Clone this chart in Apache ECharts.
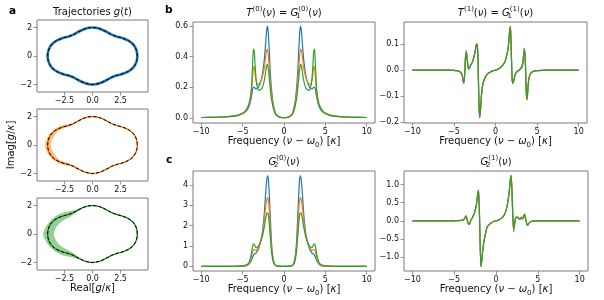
<!DOCTYPE html>
<html><head><meta charset="utf-8">
<script src="https://cdn.jsdelivr.net/npm/echarts@6/dist/echarts.min.js"></script>
<style>html,body{margin:0;padding:0;background:#fff}#c{width:604px;height:300px}</style>
</head><body><div id="c"></div>
<script>
// ---------------- DATA ----------------
const freq = [-10,-8,-7,-6,-5.5,-5,-4.7,-4.4,-4.2,-4.0,-3.9,-3.8,-3.7,-3.6,-3.5,-3.4,-3.3,-3.2,-3.1,-3.0,-2.8,-2.6,-2.4,-2.3,-2.2,-2.1,-2.0,-1.9,-1.8,-1.7,-1.6,-1.5,-1.3,-1.1,-0.9,-0.6,-0.3,
  0,
  0.3,0.6,0.9,1.1,1.3,1.5,1.6,1.7,1.8,1.9,2.0,2.1,2.2,2.3,2.4,2.6,2.8,3.0,3.1,3.2,3.3,3.4,3.5,3.6,3.7,3.8,3.9,4.0,4.2,4.4,4.7,5,5.5,6,7,8,10];

// b: T^(0) = G1^(0)
const T0_blue = [0.003,0.005,0.007,0.012,0.017,0.027,0.038,0.058,0.08,0.12,0.15,0.185,0.2,0.2,0.195,0.19,0.19,0.195,0.2,0.21,0.24,0.29,0.37,0.43,0.5,0.57,0.6,0.56,0.46,0.34,0.25,0.18,0.09,0.045,0.022,0.008,0.003,
  0.002,
  0.003,0.008,0.022,0.045,0.09,0.18,0.25,0.34,0.46,0.56,0.6,0.57,0.5,0.43,0.37,0.29,0.24,0.21,0.2,0.195,0.19,0.19,0.195,0.2,0.2,0.185,0.15,0.12,0.08,0.058,0.038,0.027,0.017,0.012,0.007,0.005,0.003];
const T0_orange = [0.003,0.005,0.008,0.013,0.019,0.03,0.042,0.065,0.09,0.14,0.19,0.26,0.33,0.335,0.29,0.25,0.23,0.22,0.22,0.225,0.24,0.27,0.32,0.36,0.41,0.44,0.45,0.41,0.34,0.26,0.2,0.15,0.08,0.04,0.02,0.007,0.003,
  0.002,
  0.003,0.007,0.02,0.04,0.08,0.15,0.2,0.26,0.34,0.41,0.45,0.44,0.41,0.36,0.32,0.27,0.24,0.225,0.22,0.22,0.23,0.25,0.29,0.335,0.33,0.26,0.19,0.14,0.09,0.065,0.042,0.03,0.019,0.013,0.008,0.005,0.003];
const T0_green = [0.003,0.005,0.008,0.014,0.02,0.032,0.045,0.07,0.1,0.16,0.23,0.34,0.45,0.44,0.35,0.27,0.22,0.195,0.185,0.18,0.185,0.2,0.24,0.27,0.31,0.34,0.35,0.32,0.27,0.21,0.16,0.12,0.065,0.033,0.017,0.006,0.002,
  0.001,
  0.002,0.006,0.017,0.033,0.065,0.12,0.16,0.21,0.27,0.32,0.35,0.34,0.31,0.27,0.24,0.2,0.185,0.18,0.185,0.195,0.22,0.27,0.35,0.44,0.45,0.34,0.23,0.16,0.1,0.07,0.045,0.032,0.02,0.014,0.008,0.005,0.003];

// b: T^(1) = G1^(1)
const T1_blue = [0,0,0,0,0,-0.001,-0.002,-0.004,-0.008,-0.02,-0.04,-0.05,-0.01,0.055,0.074,0.045,0.01,0.004,0.009,0.018,0.03,0.05,0.08,0.098,0.1,0.04,-0.12,-0.182,-0.15,-0.1,-0.07,-0.052,-0.032,-0.02,-0.013,-0.007,-0.003,
  0,
  0.004,0.01,0.02,0.03,0.05,0.08,0.11,0.15,0.168,0.07,-0.035,-0.05,-0.04,-0.025,-0.015,-0.006,-0.002,0.004,0.008,0.012,0.028,0.07,0.085,0.025,-0.085,-0.114,-0.07,-0.035,-0.014,-0.007,-0.003,-0.002,-0.001,0,0,0,0];
const T1_orange = [0,0,0,0,0,-0.001,-0.002,-0.004,-0.008,-0.02,-0.04,-0.05,-0.01,0.052,0.07,0.043,0.015,0.01,0.012,0.018,0.03,0.05,0.08,0.098,0.1,0.04,-0.12,-0.182,-0.15,-0.1,-0.07,-0.052,-0.032,-0.02,-0.013,-0.007,-0.003,
  0,
  0.004,0.01,0.02,0.03,0.05,0.08,0.11,0.15,0.167,0.07,-0.035,-0.05,-0.04,-0.025,-0.015,-0.005,0.0,0.007,0.012,0.02,0.03,0.066,0.08,0.022,-0.085,-0.113,-0.07,-0.035,-0.014,-0.007,-0.003,-0.002,-0.001,0,0,0,0];
const T1_green = [0,0,0,0,0,-0.001,-0.002,-0.004,-0.008,-0.02,-0.04,-0.05,-0.01,0.05,0.066,0.04,0.012,0.006,0.01,0.018,0.03,0.05,0.08,0.098,0.1,0.04,-0.12,-0.182,-0.15,-0.1,-0.07,-0.052,-0.032,-0.02,-0.013,-0.007,-0.003,
  0,
  0.004,0.01,0.02,0.03,0.05,0.08,0.11,0.15,0.166,0.07,-0.035,-0.05,-0.04,-0.025,-0.015,-0.005,0.0,0.006,0.01,0.016,0.03,0.062,0.075,0.02,-0.085,-0.112,-0.07,-0.035,-0.014,-0.007,-0.003,-0.002,-0.001,0,0,0,0];

// c: G2^(0)
const G20_blue = [0,0,0.001,0.002,0.005,0.012,0.025,0.06,0.12,0.25,0.35,0.45,0.55,0.6,0.62,0.65,0.7,0.76,0.85,0.95,1.25,1.7,2.5,3.1,3.7,4.2,4.45,4.35,3.7,2.8,1.9,1.1,0.35,0.1,0.03,0.008,0.003,
  0.002,
  0.003,0.008,0.03,0.1,0.35,1.1,1.9,2.8,3.7,4.35,4.45,4.2,3.7,3.1,2.5,1.7,1.25,0.95,0.85,0.76,0.7,0.65,0.62,0.6,0.55,0.45,0.35,0.25,0.12,0.06,0.025,0.012,0.005,0.002,0.001,0,0];
const G20_orange = [0,0,0.001,0.003,0.007,0.016,0.035,0.08,0.17,0.38,0.55,0.72,0.8,0.82,0.8,0.8,0.82,0.86,0.92,1.0,1.25,1.6,2.2,2.6,2.95,3.25,3.38,3.3,2.85,2.15,1.45,0.85,0.28,0.08,0.025,0.007,0.003,
  0.002,
  0.003,0.007,0.025,0.08,0.28,0.85,1.45,2.15,2.85,3.3,3.38,3.25,2.95,2.6,2.2,1.6,1.25,1.0,0.92,0.86,0.82,0.8,0.8,0.82,0.8,0.72,0.55,0.38,0.17,0.08,0.035,0.016,0.007,0.003,0.001,0,0];
const G20_green = [0,0,0.001,0.004,0.009,0.02,0.045,0.1,0.22,0.5,0.75,0.98,1.1,1.08,1.0,0.93,0.92,0.95,1.0,1.06,1.25,1.5,1.9,2.15,2.4,2.58,2.63,2.55,2.2,1.65,1.15,0.68,0.22,0.07,0.02,0.006,0.002,
  0.001,
  0.002,0.006,0.02,0.07,0.22,0.68,1.15,1.65,2.2,2.55,2.63,2.58,2.4,2.15,1.9,1.5,1.25,1.06,1.0,0.95,0.92,0.93,1.0,1.08,1.1,0.98,0.75,0.5,0.22,0.1,0.045,0.02,0.009,0.004,0.001,0,0];

// c: G2^(1)
const G21_blue = [0,0,0,0,0,0.001,0.002,0.005,0.01,0.02,0.03,0.05,0.085,0.11,0.075,-0.02,-0.08,-0.1,-0.05,0.02,0.1,0.2,0.38,0.52,0.72,0.84,0.4,-0.6,-1.26,-1.1,-0.85,-0.65,-0.4,-0.2,-0.12,-0.06,-0.02,
  0,
  0.02,0.06,0.13,0.22,0.38,0.65,0.85,1.1,1.25,0.9,0.2,-0.3,-0.16,0.03,0.09,0.09,0.04,0.06,0.09,0.05,0.09,0.17,0.11,0.0,-0.1,-0.12,-0.08,-0.05,-0.02,-0.008,-0.003,-0.001,0,0,0,0,0];
const G21_orange = [0,0,0,0,0,0.001,0.002,0.005,0.01,0.02,0.03,0.05,0.095,0.15,0.1,-0.02,-0.08,-0.1,-0.05,0.02,0.1,0.2,0.38,0.52,0.72,0.84,0.4,-0.6,-1.26,-1.1,-0.85,-0.65,-0.4,-0.2,-0.12,-0.06,-0.02,
  0,
  0.02,0.06,0.13,0.22,0.38,0.65,0.85,1.1,1.25,0.9,0.2,-0.25,-0.14,0.05,0.1,0.1,0.05,0.08,0.1,0.06,0.1,0.19,0.12,0.0,-0.1,-0.12,-0.08,-0.05,-0.02,-0.008,-0.003,-0.001,0,0,0,0,0];
const G21_green = [0,0,0,0,0,0.001,0.002,0.005,0.01,0.02,0.03,0.05,0.09,0.12,0.08,-0.02,-0.08,-0.1,-0.05,0.02,0.1,0.2,0.38,0.52,0.72,0.84,0.4,-0.6,-1.26,-1.1,-0.85,-0.65,-0.4,-0.2,-0.12,-0.06,-0.02,
  0,
  0.02,0.06,0.13,0.22,0.38,0.65,0.85,1.1,1.25,0.9,0.2,-0.2,-0.12,0.04,0.1,0.1,0.05,0.09,0.1,0.06,0.1,0.18,0.12,0.0,-0.1,-0.12,-0.08,-0.05,-0.02,-0.008,-0.003,-0.001,0,0,0,0,0];

// a: trajectory (mean path) in the complex plane
const trajX = [4.0,3.95,3.8,3.55,3.2,2.7,2.2,1.7,1.2,0.7,0.3,0,-0.3,-0.7,-1.2,-1.7,-2.2,-2.7,-3.2,-3.55,-3.8,-3.95,-4.0,-3.95,-3.8,-3.55,-3.2,-2.7,-2.2,-1.7,-1.2,-0.7,-0.3,0,0.3,0.7,1.2,1.7,2.2,2.7,3.2,3.55,3.8,3.95,4.0];
const trajY = [0,0.32,0.62,0.88,1.08,1.25,1.36,1.5,1.72,1.9,1.98,2.0,1.98,1.9,1.72,1.5,1.36,1.25,1.08,0.88,0.62,0.32,0,-0.32,-0.62,-0.88,-1.08,-1.25,-1.36,-1.5,-1.72,-1.9,-1.98,-2.0,-1.98,-1.9,-1.72,-1.5,-1.36,-1.25,-1.08,-0.88,-0.62,-0.32,0];

// spread bands
const orangeOuterX = [-1.6,-2.1,-2.6,-3.1,-3.55,-3.9,-4.15,-4.25,-4.15,-3.9,-3.55,-3.1,-2.6,-2.1,-1.6];
const orangeOuterY = [1.5,1.45,1.4,1.25,1.0,0.7,0.35,0,-0.35,-0.7,-1.0,-1.25,-1.4,-1.45,-1.5];
const orangeInnerX = [-1.8,-2.4,-2.9,-3.25,-3.5,-3.65,-3.7,-3.65,-3.5,-3.25,-2.9,-2.4,-1.8];
const orangeInnerY = [-1.38,-1.22,-1.05,-0.8,-0.5,-0.25,0,0.25,0.5,0.8,1.05,1.22,1.38];
const greenOuterX = [-1.0,-1.6,-2.2,-2.8,-3.35,-3.85,-4.2,-4.4,-4.2,-3.85,-3.35,-2.8,-2.2,-1.6,-1.0];
const greenOuterY = [1.82,1.68,1.58,1.45,1.22,0.85,0.45,0,-0.45,-0.85,-1.22,-1.45,-1.58,-1.68,-1.82];
const greenInnerX = [-1.3,-1.9,-2.5,-2.95,-3.25,-3.4,-3.45,-3.4,-3.25,-2.95,-2.5,-1.9,-1.3];
const greenInnerY = [-1.6,-1.25,-1.0,-0.75,-0.45,-0.2,0,0.2,0.45,0.75,1.0,1.25,1.6];

// ticks
const freqTicks = [-10,-5,0,5,10];
const freqTickLabels = ['\u221210','\u22125','0','5','10'];
const realTicks = [-2.5,0,2.5];
const realTickLabels = ['\u22122.5','0.0','2.5'];
const imagTicks = [-2,0,2];
const imagTickLabels = ['\u22122','0','2'];
const T0Ticks = [0,0.2,0.4,0.6];
const T0TickLabels = ['0.0','0.2','0.4','0.6'];
const T1Ticks = [-0.2,-0.1,0,0.1];
const T1TickLabels = ['\u22120.2','\u22120.1','0.0','0.1'];
const G20Ticks = [0,1,2,3,4];
const G20TickLabels = ['0','1','2','3','4'];
const G21Ticks = [-1,-0.5,0,0.5,1];
const G21TickLabels = ['\u22121.0','\u22120.5','0.0','0.5','1.0'];

// ---------------- CHART ----------------
const F = 'DejaVu Sans';
const TXT = '#111';
const SP = '#7a7a7a';
const C = {blue:'#1f77b4', orange:'#ff7f0e', green:'#2ca02c'};
const rich = {
  n:{fontFamily:F,fontSize:10,fontWeight:'normal',color:TXT,lineHeight:14},
  i:{fontFamily:F,fontSize:10,fontWeight:'normal',fontStyle:'italic',color:TXT,lineHeight:14},
  sp:{fontFamily:F,fontSize:7,fontWeight:'normal',color:TXT,lineHeight:7,verticalAlign:'top'},
  sb:{fontFamily:F,fontSize:7,fontWeight:'normal',color:TXT,lineHeight:7,verticalAlign:'bottom'},
  sb0:{fontFamily:F,fontSize:7,fontWeight:'normal',color:TXT,lineHeight:7,verticalAlign:'bottom',width:0.1}
};

const grids = [
  {left:37,top:20,width:111,height:72},
  {left:37,top:109,width:111,height:72},
  {left:37,top:198,width:111,height:72},
  {left:193,top:22,width:182,height:101},
  {left:404,top:22,width:183,height:101},
  {left:193,top:171,width:182,height:100},
  {left:404,top:171,width:184,height:100}
].map(g => Object.assign({show:true,borderColor:SP,borderWidth:1,backgroundColor:'transparent'}, g));

function fmt(vals, labels){
  return v => { for (let k=0;k<vals.length;k++) if (Math.abs(vals[k]-v)<1e-9) return labels[k]; return ''; };
}
function ax(gi, min, max, vals, labels, extra){
  return Object.assign({
    type:'value', gridIndex:gi, min, max,
    axisLine:{show:false,onZero:false}, splitLine:{show:false},
    axisTick:{show:true,inside:false,length:3.5,lineStyle:{color:SP,width:0.8},customValues:vals},
    axisLabel:{customValues:vals,formatter:fmt(vals,labels),fontSize:8,fontFamily:F,color:TXT,margin:5}
  }, extra||{});
}
const freqName = '{n|Frequency (}{i|\u03bd}{n| \u2212 }{i|\u03c9}{sb|0}{n|) [}{i|\u03ba}{n|]}';
const freqNameOpt = {name:freqName,nameLocation:'middle',nameGap:11,nameTextStyle:{rich}};

const xAxes = [
  ax(0,-4.95,4.95,realTicks,realTickLabels),
  ax(1,-4.95,4.95,realTicks,realTickLabels),
  ax(2,-4.95,4.95,realTicks,realTickLabels,{name:'{n|Real[}{i|g}{n|/}{i|\u03ba}{n|]}',nameLocation:'middle',nameGap:11,nameTextStyle:{rich}}),
  ax(3,-11,11,freqTicks,freqTickLabels,freqNameOpt),
  ax(4,-11,11,freqTicks,freqTickLabels,freqNameOpt),
  ax(5,-11,11,freqTicks,freqTickLabels,freqNameOpt),
  ax(6,-11,11,freqTicks,freqTickLabels,freqNameOpt)
];
const yAxes = [
  ax(0,-2.53,2.53,imagTicks,imagTickLabels),
  ax(1,-2.53,2.53,imagTicks,imagTickLabels,{name:'{n|Imag[}{i|g}{n|/}{i|\u03ba}{n|]}',nameLocation:'middle',nameRotate:90,nameGap:16,nameTextStyle:{rich}}),
  ax(2,-2.53,2.53,imagTicks,imagTickLabels),
  ax(3,-0.033,0.627,T0Ticks,T0TickLabels),
  ax(4,-0.203,0.185,T1Ticks,T1TickLabels),
  ax(5,-0.23,4.69,G20Ticks,G20TickLabels),
  ax(6,-1.385,1.375,G21Ticks,G21TickLabels)
];

function pairs(xs, ys){ return xs.map((x,k)=>[x,ys[k]]); }
function specLine(gi, ys, color){
  return {type:'line',xAxisIndex:gi,yAxisIndex:gi,data:pairs(freq,ys),showSymbol:false,symbol:'none',
    smooth:0.2,lineStyle:{color,width:1.2},itemStyle:{color},z:3,silent:true};
}
function trajLine(gi, color, width, dashed){
  return {type:'line',xAxisIndex:gi,yAxisIndex:gi,data:pairs(trajX,trajY),showSymbol:false,symbol:'none',
    smooth:0.35,lineStyle:{color,width,type:dashed?[3.5,1.8]:'solid'},itemStyle:{color},z:dashed?5:4,silent:true};
}
function band(gi, ox, oy, ix, iy, fill){
  return {type:'custom',xAxisIndex:gi,yAxisIndex:gi,data:[[0,0]],z:2,silent:true,
    renderItem:(params, api)=>{
      const pts=[];
      for(let k=0;k<ox.length;k++) pts.push(api.coord([ox[k],oy[k]]));
      for(let k=0;k<ix.length;k++) pts.push(api.coord([ix[k],iy[k]]));
      return {type:'polygon',shape:{points:pts,smooth:0.35},style:{fill}};
    }};
}

const series = [
  trajLine(0,C.blue,2.6,false), trajLine(0,'#000',1,true),
  band(1,orangeOuterX,orangeOuterY,orangeInnerX,orangeInnerY,'rgba(255,127,14,0.5)'),
  trajLine(1,C.orange,1.4,false), trajLine(1,'#000',1,true),
  band(2,greenOuterX,greenOuterY,greenInnerX,greenInnerY,'rgba(44,160,44,0.5)'),
  trajLine(2,C.green,1.4,false), trajLine(2,'#000',1,true),
  specLine(3,T0_blue,C.blue), specLine(3,T0_orange,C.orange), specLine(3,T0_green,C.green),
  specLine(4,T1_blue,C.blue), specLine(4,T1_orange,C.orange), specLine(4,T1_green,C.green),
  specLine(5,G20_blue,C.blue), specLine(5,G20_orange,C.orange), specLine(5,G20_green,C.green),
  specLine(6,G21_blue,C.blue), specLine(6,G21_orange,C.orange), specLine(6,G21_green,C.green)
];

function ttl(text, cx, top){ return {text, left:cx, top, textAlign:'center', padding:0, textStyle:{fontWeight:'normal',rich}}; }
function letter(t, x, y){ return {text:t, left:x, top:y, padding:0, textStyle:{fontFamily:F,fontSize:10.5,fontWeight:'bold',color:'#000'}}; }
const titles = [
  ttl('{n|Trajectories }{i|g}{n|(}{i|t}{n|)}', 92.5, 5),
  ttl('{i|T}{sp|(0)}{n|(}{i|\u03bd}{n|) = }{i|G}{sb0|1}{sp|(0)}{n|(}{i|\u03bd}{n|)}', 284, 6),
  ttl('{i|T}{sp|(1)}{n|(}{i|\u03bd}{n|) = }{i|G}{sb0|1}{sp|(1)}{n|(}{i|\u03bd}{n|)}', 495.5, 6),
  ttl('{i|G}{sb0|2}{sp|(0)}{n|(}{i|\u03bd}{n|)}', 284, 155),
  ttl('{i|G}{sb0|2}{sp|(1)}{n|(}{i|\u03bd}{n|)}', 496, 155),
  letter('a', 9, 6), letter('b', 165, 5), letter('c', 166, 155)
];

const chart = echarts.init(document.getElementById('c'), null, {renderer:'canvas'});
chart.setOption({animation:false, backgroundColor:'#fff', title:titles, grid:grids, xAxis:xAxes, yAxis:yAxes, series});
</script></body></html>
